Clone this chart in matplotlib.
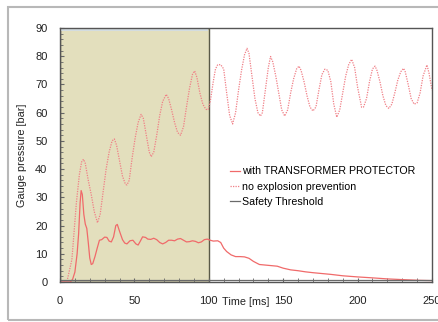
import numpy as np
import matplotlib.pyplot as plt
from matplotlib.patches import Rectangle
from matplotlib.ticker import MultipleLocator

plt.rcParams['font.family'] = ['Liberation Sans', 'DejaVu Sans']

# 有防爆装置 (with TRANSFORMER PROTECTOR)
t_prot = [0, 7, 8.5, 10, 11.5, 12.5, 13.5, 14.2, 15, 16, 17, 18, 19, 20, 21, 22, 23.5, 25,
          26.5, 28, 30, 31.5, 33, 34.5, 36, 37.5, 38.5, 40, 42, 43.5, 45, 47, 49, 51, 52.5,
          54, 55.5, 57.5, 59, 61, 63, 65, 67, 69, 71, 73, 75, 77, 79, 81, 83, 85, 87, 89,
          91, 93, 95, 97, 99, 101, 103, 106, 108, 110, 112, 115, 118, 121, 124, 127, 130,
          134, 138, 142, 146, 150, 155, 160, 165, 170, 176, 182, 190, 200, 209, 220, 232,
          241, 250]
p_prot = [0, 0, 1, 3.5, 10, 17, 28, 32.4, 31, 24, 20.5, 19, 14, 8.5, 6.2, 6.5, 9, 12,
          14.8, 15, 15.9, 15.8, 14.5, 14.2, 16, 20, 20.4, 18, 15, 13.8, 13.5, 14.6, 14.8,
          13.5, 13.1, 14.5, 16, 15.8, 15.2, 15.1, 15.5, 15, 14, 13.5, 14, 14.8, 14.8, 14.6,
          15.2, 15.4, 14.8, 14.2, 14.3, 14.6, 14.4, 13.9, 14.2, 15, 15.2, 14.8, 14.5, 14.6,
          14, 12, 10.8, 9.6, 9, 9, 8.9, 8.4, 7.3, 6.2, 6, 5.8, 5.6, 4.9, 4.3, 4, 3.6, 3.3,
          3.0, 2.7, 2.2, 1.8, 1.5, 1.1, 0.8, 0.6, 0.5]

# 无防爆措施 (no explosion prevention)
t_none = [0, 4.6, 8, 11, 13, 14.5, 15.8, 17, 19, 21, 23, 25.2, 27, 29, 31, 33, 35, 36.5,
          38, 40, 42, 44, 45, 46.5, 48.5, 50.5, 52.5, 54.5, 56, 58, 60, 61.3, 63, 65, 67,
          69, 71.4, 73, 75, 77, 79, 81, 83, 85, 87, 89, 90.5, 92, 94, 96, 98, 99.5, 101,
          103, 104.5, 106, 108, 110, 112, 114, 116, 118, 120, 122, 124, 125.7, 127, 129,
          131, 133, 134.7, 136, 138, 140, 141.5, 143, 145, 147, 149, 151, 153, 155, 157,
          159, 160.6, 162, 164, 166, 168, 170, 172, 174, 176, 178, 180, 182, 184, 186, 188,
          190, 192, 194, 196, 198, 200, 202.7, 204, 206, 208, 210, 211.7, 213, 215, 217,
          219, 221, 223, 225, 227, 229, 230.9, 232, 234, 236, 238, 240, 242, 244, 246.6,
          248, 250]
p_none = [0, 0, 8, 28, 38, 42.5, 43.5, 42, 36, 31, 25, 21, 24, 32, 40, 46, 50, 50.7,
          48.5, 43, 37.5, 34.6, 34.4, 36, 44, 51, 56.5, 59.4, 58, 52, 46, 44.4, 46, 52, 59,
          64, 66.5, 65, 61, 56.5, 53, 52, 55, 62, 68.5, 73.5, 74.8, 72.5, 67, 63, 61.2, 61,
          64, 71, 75.5, 77, 77, 75.5, 67, 59, 56, 60, 68, 75, 80.5, 82.8, 81, 73, 65, 60,
          58.8, 60, 68, 76, 79.9, 78, 73, 67, 61, 58.8, 61, 67, 72, 75.5, 76.5, 75, 71, 66,
          62, 60.6, 62, 68, 73.5, 75.4, 75, 71, 63, 58.4, 61, 67, 73, 77, 78.9, 76, 69,
          61.9, 62, 65, 71, 75.5, 76.5, 75, 71, 66, 62.5, 61.5, 63, 67, 71.5, 74.5, 75.7,
          74.5, 70, 65, 63, 63.5, 67, 73, 76.9, 74, 68]

# 安全阈值
t_thr = [0, 250]
p_thr = [0.8, 0.8]

x_ticks = [0, 50, 100, 150, 200, 250]
y_ticks = list(range(0, 91, 10))

fig = plt.figure(figsize=(4.39, 3.22), dpi=100)
fig.patches.append(Rectangle((8 / 439, 2 / 322), 1.2, 313 / 322, transform=fig.transFigure,
                             fill=False, edgecolor='#b8b8b8', linewidth=1.5))
ax = fig.add_axes([60 / 439, 40 / 322, 372 / 439, 254 / 322])

# 阴影区域
ax.add_patch(Rectangle((0, 0), 100, 90, facecolor='#e3dfbd', edgecolor='#5a5a48',
                       linewidth=1.0, zorder=0))
ax.add_patch(Rectangle((0.3, 88.9), 99.4, 1.0, facecolor='#d3dce0', edgecolor='none', zorder=0.5))

ax.plot(t_prot, p_prot, color='#f06a6a', lw=0.9, label='with TRANSFORMER PROTECTOR')
ax.plot(t_none, p_none, color='#f07f86', lw=0.9, ls=(0, (1, 1)), label='no explosion prevention')
ax.plot(t_thr, p_thr, color='#6a6a6a', lw=0.9, label='Safety Threshold')

ax.set_xlim(0, 250)
ax.set_ylim(0, 90)
ax.set_xticks(x_ticks)
ax.set_yticks(y_ticks)
ax.xaxis.set_minor_locator(MultipleLocator(10))
ax.yaxis.set_minor_locator(MultipleLocator(2))
ax.tick_params(axis='both', which='both', direction='in', colors='#666666', labelcolor='#222222',
               labelsize=8)
ax.tick_params(axis='y', which='major', length=3, pad=9)
ax.tick_params(axis='y', which='minor', length=2)
ax.tick_params(axis='x', which='major', length=3, pad=10)
ax.tick_params(axis='x', which='minor', length=3)
for s in ax.spines.values():
    s.set_color('#555555')
    s.set_linewidth(1.0)

fig.text(22 / 439, 1 - 155 / 322, 'Gauge pressure [bar]', rotation=90, ha='center', va='center',
         fontsize=7.8, color='#222222')
fig.text(246 / 439, 1 - 302 / 322, 'Time [ms]', ha='center', va='center', fontsize=7.8,
         color='#222222')

ax.legend(loc='upper left', bbox_to_anchor=(225 / 439, 1 - 161 / 322),
          bbox_transform=fig.transFigure, frameon=False, fontsize=7.7, handlelength=0.9,
          handletextpad=0.2, labelspacing=0.5, borderpad=0)

fig.savefig('out.png', dpi=100)
